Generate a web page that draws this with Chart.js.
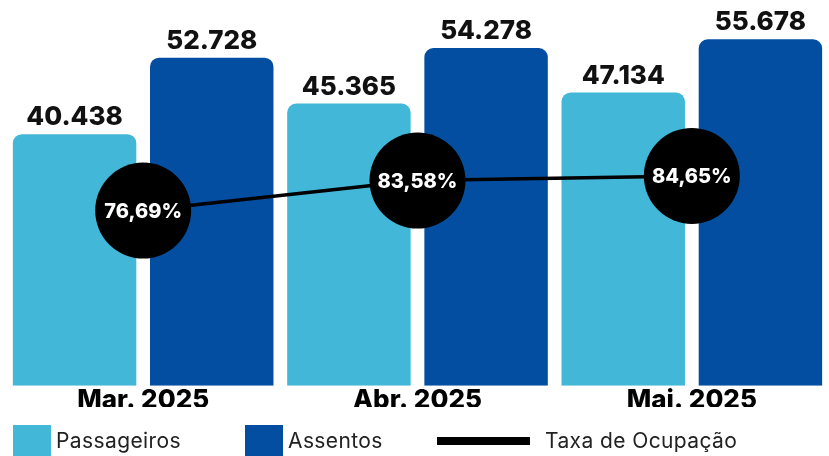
<!DOCTYPE html>
<html>
<head>
<meta charset="utf-8">
<script src="https://cdn.jsdelivr.net/npm/chart.js@4"></script>
<style>
  body { margin: 0; background: #fff; }
  #wrap { position: relative; width: 829px; height: 456px; }
  #legend { position: absolute; left: 0; top: 425px; width: 829px; height: 31px; font-family: Inter, sans-serif; font-size: 21px; letter-spacing: 0.4px; color: #222; }
  .item { position: absolute; top: 0; height: 31px; display: flex; align-items: center; }
  .box { width: 38px; height: 31px; margin-right: 5px; }
  .ln { width: 93px; height: 8px; background: #000; margin-right: 15px; }
</style>
</head>
<body>
<div id="wrap">
  <canvas id="ocupChart" width="829" height="456"></canvas>
  <div id="legend">
    <div class="item" style="left:13px"><div class="box" style="background:#42b7d7"></div>Passageiros</div>
    <div class="item" style="left:245px"><div class="box" style="background:#044ea1"></div>Assentos</div>
    <div class="item" style="left:437px"><div class="ln"></div>Taxa de Ocupação</div>
  </div>
</div>
<script>
// dados
const meses = ["Mar. 2025", "Abr. 2025", "Mai. 2025"];
const passageiros = [40438, 45365, 47134];
const assentos = [52728, 54278, 55678];
const taxa = [76.69, 83.58, 84.65];

function fmtMil(n) {
   return String(n).replace(/\B(?=(\d{3})+(?!\d))/g, ".");
}
function fmtPct(n) {
   return n.toFixed(2).replace(".", ",") + "%";
}

// rotulos em cima das barras e dentro dos circulos
const rotulos = {
   id: "rotulos",
   afterDatasetsDraw(chart) {
      const ctx = chart.ctx;
      ctx.save();
      ctx.textAlign = "center";
      chart.data.datasets.forEach(function (ds, i) {
         const meta = chart.getDatasetMeta(i);
         meta.data.forEach(function (el, j) {
            if (ds.type == "line") {
               ctx.fillStyle = "#fff";
               ctx.font = "800 20px Inter";
               ctx.textBaseline = "middle";
               ctx.fillText(fmtPct(ds.data[j]), el.x, el.y + 1);
            } else {
               ctx.fillStyle = "#111";
               ctx.font = "800 26px Inter";
               ctx.textBaseline = "alphabetic";
               ctx.fillText(fmtMil(ds.data[j]), el.x, el.y - 9);
            }
         });
      });
      ctx.restore();
   },
};

const ctx = document.getElementById("ocupChart").getContext("2d");
const ocupChart = new Chart(ctx, {
   data: {
      labels: meses,
      datasets: [
         {
            type: "line",
            label: "Taxa de Ocupação",
            data: taxa,
            yAxisID: "y2",
            borderColor: "#000",
            borderWidth: 3.5,
            backgroundColor: "#000",
            pointRadius: 48,
            pointHoverRadius: 48,
            pointBorderWidth: 0,
            order: 0,
         },
         {
            type: "bar",
            label: "Passageiros",
            data: passageiros,
            backgroundColor: "#42b7d7",
            borderRadius: { topLeft: 9, topRight: 9 },
            borderSkipped: "start",
            order: 1,
         },
         {
            type: "bar",
            label: "Assentos",
            data: assentos,
            backgroundColor: "#044ea1",
            borderRadius: { topLeft: 9, topRight: 9 },
            borderSkipped: "start",
            order: 1,
         },
      ],
   },
   options: {
      responsive: false,
      animation: false,
      layout: { autoPadding: false, padding: { left: 6, right: 0, top: 0, bottom: 49 } },
      datasets: { bar: { categoryPercentage: 1, barPercentage: 0.9 } },
      plugins: { legend: { display: false }, tooltip: { enabled: false } },
      scales: {
         x: {
            grid: { display: false },
            border: { display: false },
            ticks: { color: "#000", font: { family: "Inter", size: 26, weight: "800" }, padding: -9 },
         },
         y: { display: false, min: 0, max: 62000 },
         y2: { display: false, min: 36.5, max: 125 },
      },
   },
   plugins: [rotulos],
});
</script>
</body>
</html>
